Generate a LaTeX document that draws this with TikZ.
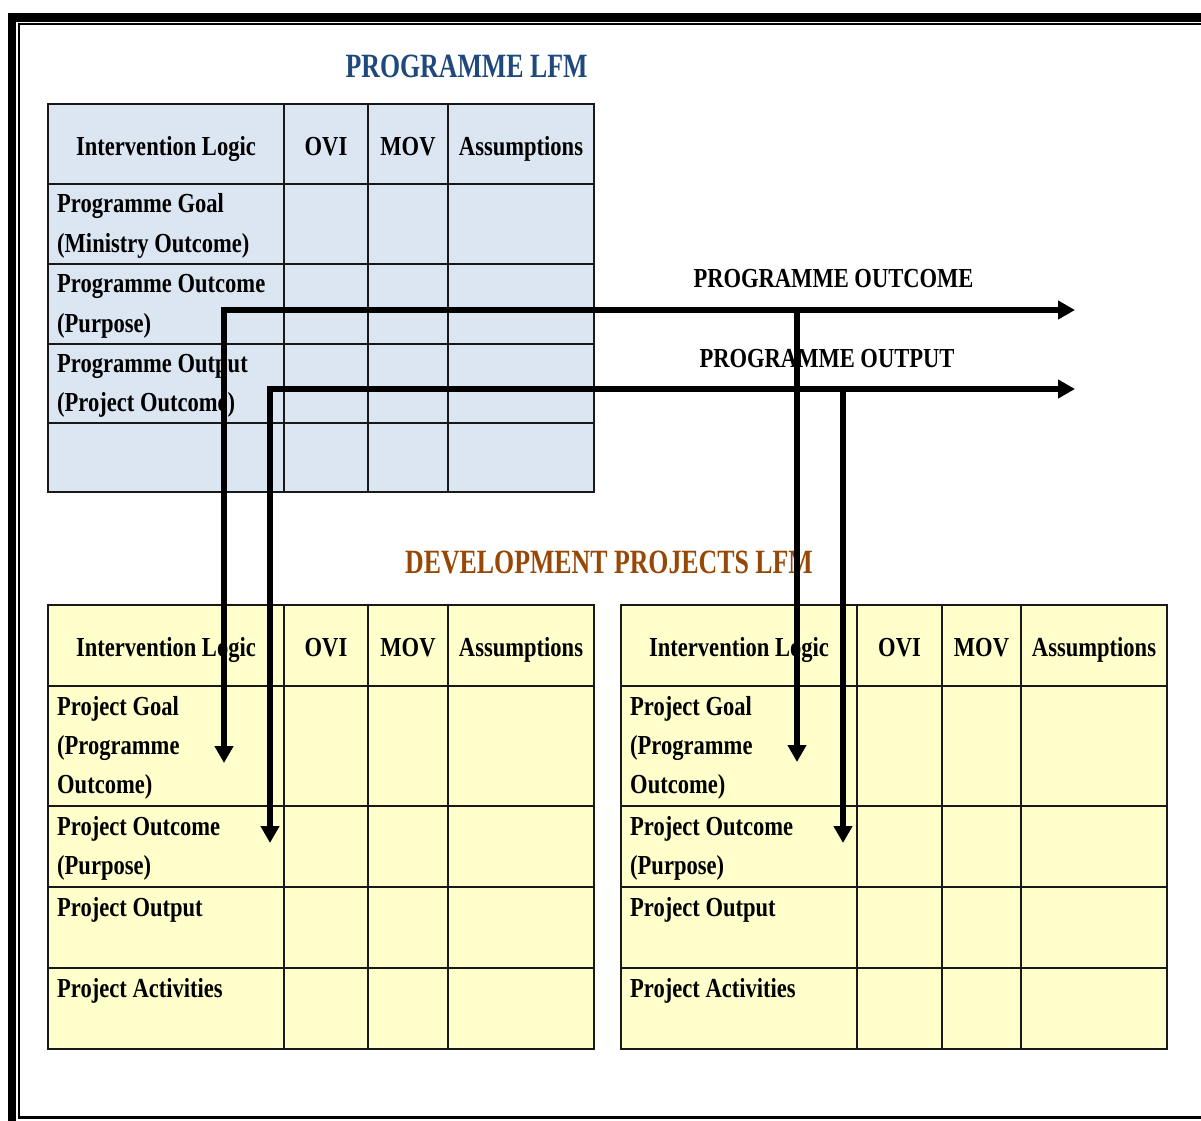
\documentclass[tikz,border=0pt]{standalone}
\usepackage{fontspec}
\setmainfont{Liberation Serif}[FakeStretch=0.82]
\newfontfamily\ttlfont{Liberation Serif}[FakeStretch=0.76]
\usetikzlibrary{arrows.meta}
\definecolor{ttlblue}{RGB}{31,73,125}
\definecolor{ttlbrown}{RGB}{152,72,6}
\definecolor{cellblue}{RGB}{220,230,242}
\definecolor{cellyellow}{RGB}{255,255,204}
\definecolor{gridc}{RGB}{25,25,25}
\begin{document}
\begin{tikzpicture}[x=1pt,y=-1pt,
  txt/.style={font=\fontsize{27.5}{39}\selectfont\bfseries, inner sep=0pt, anchor=base west},
  hdr/.style={font=\fontsize{27.5}{39}\selectfont\bfseries, inner sep=0pt, anchor=base},
  ttl/.style={font=\ttlfont\fontsize{34}{40}\selectfont\bfseries, inner sep=0pt, anchor=base},
  gridline/.style={draw=gridc, line width=1.8pt},
  conn/.style={line width=5.5pt, line join=miter, {Triangle[length=17pt,width=18pt]}-{Triangle[length=17pt,width=18pt]}},
  conntwo/.style={line width=5.5pt, -{Triangle[length=17pt,width=18pt]}}]
\useasboundingbox (0,0) rectangle (1201,1120);
\clip (0,0) rectangle (1201,1120);
% page border
\draw[line width=8.4pt] (12,17.5) rectangle (1260,1220);
\draw[line width=2.2pt] (19,23.8) rectangle (1250,1117.5);

% titles
\node[ttl, text=ttlblue] (t1) at (466.5,77) {PROGRAMME LFM};
\node[ttl, text=ttlbrown] (t2) at (609,573) {DEVELOPMENT PROJECTS LFM};

% programme table
\fill[cellblue] (48,104) rectangle (594,492);
\foreach \xx in {284,368,448} \draw[gridline] (\xx,104) -- (\xx,492);
\foreach \yy in {184,264,344,423} \draw[gridline] (48,\yy) -- (594,\yy);
\draw[gridline] (48,104) rectangle (594,492);

% project tables
\fill[cellyellow] (48,605) rectangle (594,1049);
\fill[cellyellow] (621,605) rectangle (1167,1049);
\foreach \xx in {284,368,448} \draw[gridline] (\xx,605) -- (\xx,1049);
\foreach \xx in {857,942,1021} \draw[gridline] (\xx,605) -- (\xx,1049);
\foreach \yy in {686,806,887,968} {
  \draw[gridline] (48,\yy) -- (594,\yy);
  \draw[gridline] (621,\yy) -- (1167,\yy);
}
\draw[gridline] (48,605) rectangle (594,1049);
\draw[gridline] (621,605) rectangle (1167,1049);

% programme table texts
\node[hdr] (ph1) at (166,155) {Intervention Logic};
\node[hdr] (ph2) at (326,155) {OVI};
\node[hdr] (ph3) at (408,155) {MOV};
\node[hdr] (ph4) at (521,155) {Assumptions};
\node[txt] (pr1a) at (57,212) {Programme Goal};
\node[txt] (pr1b) at (57,252) {(Ministry Outcome)};
\node[txt] (pr2a) at (57,292) {Programme Outcome};
\node[txt] (pr2b) at (57,332) {(Purpose)};
\node[txt] (pr3a) at (57,372) {Programme Output};
\node[txt] (pr3b) at (57,411) {(Project Outcome)};

% left project table texts
\node[hdr] (lh1) at (166,656) {Intervention Logic};
\node[hdr] (lh2) at (326,656) {OVI};
\node[hdr] (lh3) at (408,656) {MOV};
\node[hdr] (lh4) at (521,656) {Assumptions};
\node[txt] (lr1a) at (57,715) {Project Goal};
\node[txt] (lr1b) at (57,754) {(Programme};
\node[txt] (lr1c) at (57,793) {Outcome)};
\node[txt] (lr2a) at (57,835) {Project Outcome};
\node[txt] (lr2b) at (57,874) {(Purpose)};
\node[txt] (lr3a) at (57,916) {Project Output};
\node[txt] (lr4a) at (57,997) {Project Activities};

% right project table texts
\node[hdr] (rh1) at (739,656) {Intervention Logic};
\node[hdr] (rh2) at (899.5,656) {OVI};
\node[hdr] (rh3) at (981.5,656) {MOV};
\node[hdr] (rh4) at (1094,656) {Assumptions};
\node[txt] (rr1a) at (630,715) {Project Goal};
\node[txt] (rr1b) at (630,754) {(Programme};
\node[txt] (rr1c) at (630,793) {Outcome)};
\node[txt] (rr2a) at (630,835) {Project Outcome};
\node[txt] (rr2b) at (630,874) {(Purpose)};
\node[txt] (rr3a) at (630,916) {Project Output};
\node[txt] (rr4a) at (630,997) {Project Activities};

% arrow labels
\node[hdr] (lbl1) at (833.5,287) {PROGRAMME OUTCOME};
\node[hdr] (lbl2) at (827,367) {PROGRAMME OUTPUT};

% connector coordinates
\coordinate (ocL) at (224,763);
\coordinate (ocR) at (1075,310);
\coordinate (ocM) at (797,310);
\coordinate (ocMtip) at (797,762);
\coordinate (opL) at (270,843);
\coordinate (opR) at (1075,389);
\coordinate (opM) at (843,389);
\coordinate (opMtip) at (843,843);

% connectors
\draw[conn] (ocL) |- (ocR);
\draw[conntwo] (ocM) -- (ocMtip);
\draw[conn] (opL) |- (opR);
\draw[conntwo] (opM) -- (opMtip);
\end{tikzpicture}
\end{document}
